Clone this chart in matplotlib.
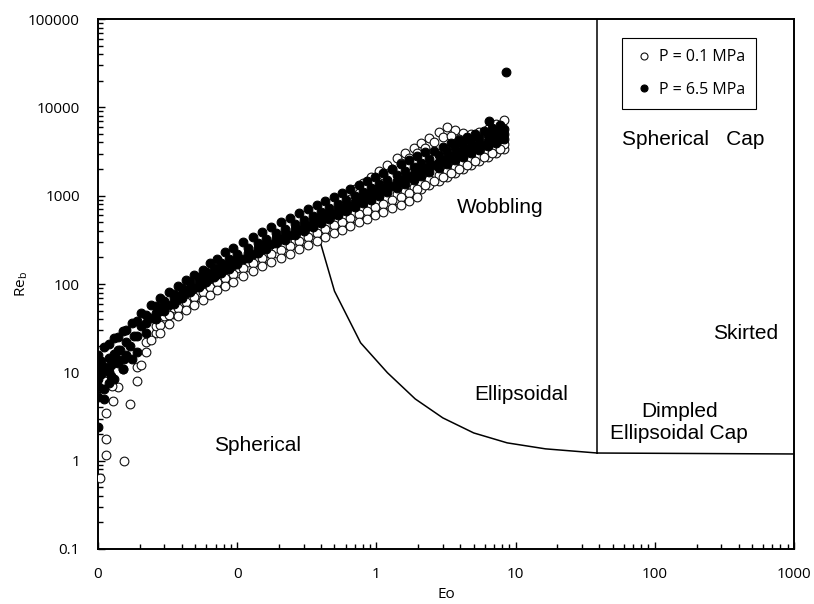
import matplotlib
matplotlib.use('Agg')
import matplotlib.pyplot as plt
from matplotlib.ticker import FixedLocator, LogLocator, NullFormatter

# --- 1. data ---
# two interleaved Eo grids shared by the bubble strands
eo_grid = [0.010, 0.012, 0.014, 0.016, 0.019, 0.022, 0.026, 0.030, 0.035, 0.040,
           0.046, 0.053, 0.060, 0.068, 0.077, 0.087, 0.10, 0.12, 0.14, 0.16,
           0.19, 0.22, 0.26, 0.30, 0.35, 0.40, 0.46, 0.53, 0.60, 0.70,
           0.80, 0.92, 1.05, 1.2, 1.4, 1.6, 1.85, 2.1, 2.4, 2.8,
           3.2, 3.7, 4.2, 4.8, 5.5, 6.3, 7.2, 8.2]
eo_grid_b = [0.011, 0.013, 0.015, 0.0175, 0.0205, 0.024, 0.028, 0.0325, 0.0375, 0.043,
             0.049, 0.0565, 0.064, 0.072, 0.082, 0.093, 0.11, 0.13, 0.15, 0.175,
             0.205, 0.24, 0.28, 0.325, 0.375, 0.43, 0.495, 0.565, 0.65, 0.75,
             0.86, 0.985, 1.12, 1.3, 1.5, 1.72, 1.97, 2.25, 2.6, 3.0,
             3.45, 3.95, 4.5, 5.15, 5.9, 6.75, 7.7]

# P = 6.5 MPa (filled)
hp_re_1 = [15.9, 20.7, 25, 30, 38, 45, 56, 65, 78, 89,
           104, 119, 135, 150, 171, 190, 217, 254, 289, 321,
           375, 416, 474, 526, 583, 649, 719, 798, 888, 985,
           1095, 1215, 1345, 1495, 1705, 1890, 2100, 2330, 2590, 2870,
           3185, 3540, 3825, 4140, 4475, 4840, 5240, 5665]
hp_re_2 = [11.6, 14.7, 18, 22, 25.5, 36, 47, 57, 69, 78,
           91, 104, 119, 134, 150, 167, 190, 222, 254, 281,
           329, 365, 416, 461, 513, 569, 631, 702, 769, 853,
           947, 1040, 1150, 1280, 1455, 1595, 1770, 1965, 2185, 2420,
           2690, 2985, 3270, 3540, 3825, 4190, 4595, 4965]
hp_re_3 = [8.3, 10.2, 12.6, 15.9, 17.2, 28, 40, 50, 60, 70,
           81, 93, 106, 119, 134, 148, 169, 198, 225, 250,
           289, 316, 360, 400, 444, 493, 547, 607, 665, 738,
           820, 899, 998, 1095, 1230, 1345, 1495, 1660, 1840, 2045,
           2270, 2520, 2760, 3025, 3315, 3630, 3980, 4365]
# strands on the second grid
hp_re_b1 = [19.6, 24.5, 29.4, 36.2, 47, 57.2, 68.7, 81.3, 95.1, 110,
            127, 145, 171, 193, 228, 257, 296, 342, 385, 438,
            499, 561, 631, 702, 778, 865, 960, 1065, 1185, 1310,
            1455, 1620, 1795, 2018, 2270, 2520, 2800, 3105, 3185, 3540,
            3925, 4305, 4655, 5035, 5445, 5885, 6365]
hp_re_b2 = [6.4, 8.3, 10.8, 14.0, 33.5, 40.7, 48.9, 57.9, 67.8, 78.2,
            90.3, 103, 116, 130, 146, 165, 190, 219, 247, 281,
            321, 360, 405, 450, 499, 554, 615, 683, 758, 842,
            935, 1040, 1150, 1295, 1455, 1620, 1795, 1990, 2210, 2455,
            2725, 2985, 3230, 3495, 3775, 4085, 4415]
hp_extra_eo = [0.010, 0.010, 0.010, 0.011, 0.0105, 0.0125, 0.013, 6.4, 8.6,
               0.0105, 0.011, 0.012, 0.0125, 0.0135, 0.0145, 0.0155, 0.017, 0.018]
hp_extra_re = [6.9, 5.2, 2.4, 5.0, 13.5, 9.0, 16.0, 7000, 25000,
               9.5, 11.5, 7.5, 12, 14.5, 18, 14, 20, 26]

# P = 0.1 MPa (open)
lp_re_1 = [7.9, 17.2, 28, 38, 46, 54, 64, 72, 82, 94,
           104, 116, 132, 154, 176, 195, 222, 240, 274, 304,
           337, 375, 416, 461, 499, 554, 615, 665, 738, 798,
           888, 960, 1065, 1185, 1310, 1455, 1620, 1795, 1990, 2210,
           2455, 2725, 3025, 3360]
lp_re_2 = [11.6, 21.8, 33.5, 43, 53, 62, 72, 82, 94, 106,
           119, 132, 150, 176, 201, 222, 254, 274, 312, 347,
           385, 427, 474, 526, 577, 640, 710, 778, 865, 935,
           1040, 1135, 1260, 1400, 1555, 1725, 1915, 2130, 2330, 2590,
           2870, 3145, 3495, 3825]
lp_re_b1 = [12.2, 23.2, 34.4, 44.1, 53, 62, 71.4, 81.3, 92.7, 104,
            116, 130, 150, 173, 195, 219, 244, 270, 304, 337,
            375, 416, 461, 506, 554, 615, 674, 738, 809, 888,
            972, 1065, 1185, 1310, 1455, 1620, 1795, 1990, 2210, 2455,
            2725, 3025, 3360]
# lowest open strand, Eo 0.028 - 1.97
lp_re_b0 = [27.9, 35.7, 42.9, 50.2, 57.9, 66.0, 75.2, 84.6, 94.0, 106,
            122, 141, 158, 178, 198, 219, 247, 274, 304, 337,
            375, 410, 450, 499, 547, 600, 657, 719, 789, 865,
            960]
# upper open strands for Eo >= 0.6
lp_re_top = [1010, 1185, 1385, 1620, 1890, 2210, 2655, 3025, 3445, 3925,
             4475, 5240, 5970, 5520, 5095, 4965, 5240, 5665, 6460, 7160]
lp_re_top_b = [910, 1065, 1245, 1455, 1705, 2018, 2360, 2690, 3065, 3495,
               4030, 4655, 4775, 4415, 4190, 4250, 4530, 5035, 5665]
lp_extra_eo = [0.0103, 0.0114, 0.0114, 0.0154, 0.0114, 0.0128, 0.0139, 0.0151,
               0.0170, 0.0112, 0.0118, 0.0126]
lp_extra_re = [0.64, 1.74, 1.17, 1.0, 3.5, 4.7, 6.9, 11.0, 4.4, 8.0, 10.5, 7.0]

# regime boundaries
curve_eo = [0.39, 0.5, 0.77, 1.2, 1.9, 3.0, 5.0, 8.7, 16.4, 38.6]
curve_re = [320, 83, 21.6, 9.9, 5.0, 3.05, 2.06, 1.59, 1.36, 1.22]
cap_eo = [38.6, 38.6]
cap_re = [1.22, 100000]
base_eo = [38.6, 1000]
base_re = [1.22, 1.19]

# regime labels: (text, Eo, Re)
regimes = [("Spherical", 0.141, 1.48),
           ("Wobbling", 7.8, 740),
           ("Ellipsoidal", 11.0, 5.6),
           ("Dimpled\nEllipsoidal Cap", 150, 2.7),
           ("Spherical   Cap", 188, 4360),
           ("Skirted", 453, 27.5)]

x_ticks = [0.01, 0.1, 1, 10, 100, 1000]
x_tick_labels = ["0", "0", "1", "10", "100", "1000"]
y_ticks = [0.1, 1, 10, 100, 1000, 10000, 100000]
y_tick_labels = ["0.1", "1", "10", "100", "1000", "10000", "100000"]

# --- 2. assemble series ---
hp_eo = eo_grid * 3 + eo_grid_b * 2 + hp_extra_eo
hp_re = hp_re_1 + hp_re_2 + hp_re_3 + hp_re_b1 + hp_re_b2 + hp_extra_re
lp_eo = (eo_grid[4:] * 2 + eo_grid_b[4:] + eo_grid_b[6:37]
         + eo_grid[28:] + eo_grid_b[28:] + lp_extra_eo)
lp_re = lp_re_1 + lp_re_2 + lp_re_b1 + lp_re_b0 + lp_re_top + lp_re_top_b + lp_extra_re

# --- 3. plot ---
plt.rcParams['font.family'] = ['Open Sans', 'DejaVu Sans']
fig = plt.figure(figsize=(8.14, 6.04), dpi=100)
ax = fig.add_axes([0.1204, 0.0911, 0.855, 0.8774])

ax.plot(lp_eo, lp_re, 'o', ms=6.3, mfc='white', mec='#111111', mew=0.8,
        label='P = 0.1 MPa', zorder=3)
ax.plot(hp_eo, hp_re, 'o', ms=6.3, mfc='black', mec='black', mew=0.8,
        label='P = 6.5 MPa', zorder=4)

ax.plot(curve_eo, curve_re, color='black', lw=1.1, zorder=2)
ax.plot(cap_eo, cap_re, color='black', lw=1.1, zorder=2)
ax.plot(base_eo, base_re, color='black', lw=1.1, zorder=2)

for text, x, y in regimes:
    ax.text(x, y, text, ha='center', va='center', fontsize=15,
            family='Liberation Sans', linespacing=1.15, zorder=5)

ax.set_xscale('log')
ax.set_yscale('log')
ax.set_xlim(0.01, 1000)
ax.set_ylim(0.1, 100000)

ax.xaxis.set_major_locator(FixedLocator(x_ticks))
ax.set_xticklabels(x_tick_labels)
ax.yaxis.set_major_locator(FixedLocator(y_ticks))
ax.set_yticklabels(y_tick_labels)
ax.xaxis.set_minor_locator(LogLocator(base=10, subs=range(2, 10)))
ax.yaxis.set_minor_locator(LogLocator(base=10, subs=range(2, 10)))
ax.xaxis.set_minor_formatter(NullFormatter())
ax.yaxis.set_minor_formatter(NullFormatter())

ax.tick_params(which='both', direction='in', width=1, labelsize=11)
ax.tick_params(which='major', length=5)
ax.tick_params(which='minor', length=3.5)
ax.tick_params(axis='x', which='major', pad=13)
ax.tick_params(axis='y', which='major', pad=13)

for s in ax.spines.values():
    s.set_linewidth(1.4)

ax.set_xlabel('Eo', fontsize=11)
ax.set_ylabel(r'$\mathregular{Re_b}$', fontsize=11)
ax.xaxis.set_label_coords(0.5, -0.072)
ax.yaxis.set_label_coords(-0.098, 0.5)

leg = ax.legend(loc='upper left', bbox_to_anchor=(0.753, 0.964), borderaxespad=0,
                fontsize=11.5, frameon=True, fancybox=False, edgecolor='black',
                framealpha=1, handlelength=1.4, handletextpad=0.2,
                borderpad=0.7, labelspacing=1.05, markerscale=0.8)
leg.get_frame().set_linewidth(0.8)

fig.savefig('out.png', dpi=100)
